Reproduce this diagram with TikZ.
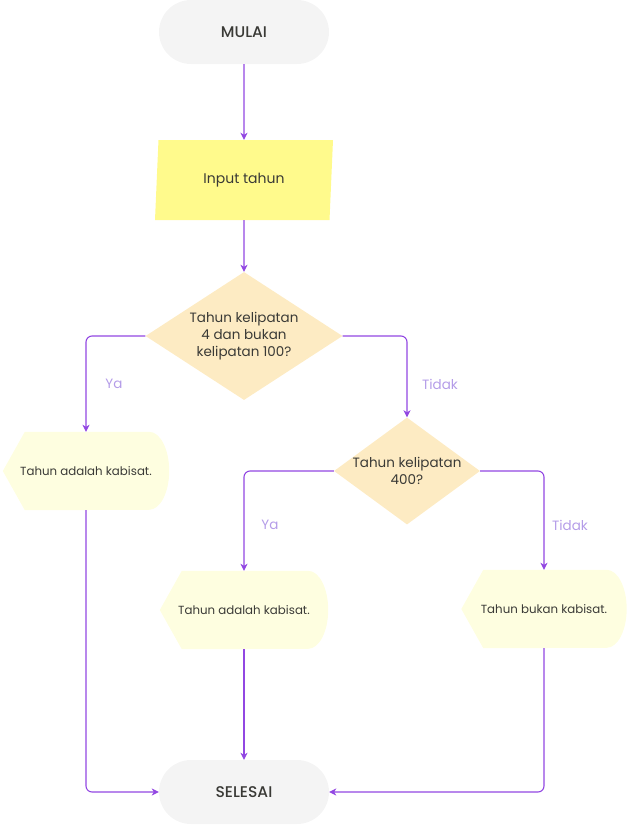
\documentclass[tikz,border=0pt]{standalone}
\usepackage{fontspec}
\setmainfont{Poppins}
\newfontfamily\medfont{Poppins Medium}
\usetikzlibrary{shapes.geometric,arrows.meta,calc,backgrounds}
\definecolor{arrowc}{HTML}{9247E2}
\definecolor{lblc}{HTML}{B49CE8}
\definecolor{textc}{HTML}{3A3A36}
\definecolor{termc}{HTML}{F4F4F4}
\definecolor{ioc}{HTML}{FFFA8C}
\definecolor{decc}{HTML}{FDEBC3}
\definecolor{dispc}{HTML}{FEFEE0}
\begin{document}
\begin{tikzpicture}[x=1pt,y=-1pt,
  txt/.style={text=textc, font=\fontsize{13.5}{17}\selectfont},
  term/.style={rounded corners=32pt, fill=termc, minimum width=170pt, minimum height=64pt, inner sep=0pt, text=textc, font=\medfont\fontsize{15.5}{18}\selectfont},
  io/.style={trapezium, trapezium left angle=76, trapezium right angle=104, trapezium stretches body, fill=ioc, minimum width=178pt, minimum height=80pt, inner sep=0pt, text=textc, font=\fontsize{14}{17}\selectfont},
  dec/.style={diamond, fill=decc, inner sep=0pt},
  dectext/.style={align=center, txt},
  disp/.style={minimum height=78pt, inner sep=0pt, text=textc, font=\fontsize{11.8}{14}\selectfont},
  dispshape/.style={fill=dispc},
  flow/.style={draw=arrowc, line width=1.1pt, rounded corners=6pt, -{Stealth[length=7pt,width=7pt,inset=2pt]}},
  lbl/.style={text=lblc, font=\fontsize{13.5}{16}\selectfont}]
\useasboundingbox (0,0) rectangle (627,825);

\node[term] (start) at (244,32) {MULAI};
\node[io] (input) at (244,180) {Input tahun};
\node[dec, minimum width=197pt, minimum height=128pt] (d1) at (244,336) {};
\node[dectext] (t1) at (d1) {Tahun kelipatan\\4 dan bukan\\kelipatan 100?};
\node[disp, minimum width=166pt] (y1) at (86,471) {Tahun adalah kabisat.};
\node[dec, minimum width=146pt, minimum height=107pt] (d2) at (407,471) {};
\node[dectext] (t2) at (d2) {Tahun kelipatan\\400?};
\node[disp, minimum width=168pt] (y2) at (244,610) {Tahun adalah kabisat.};
\node[disp, minimum width=165pt] (n2) at (544,609) {Tahun bukan kabisat.};
\node[term] (end) at (244,792) {SELESAI};

\begin{scope}[on background layer]
\foreach \n in {y1,y2,n2}{
  \fill[dispshape] (\n.west) -- ($(\n.north west)+(22,0)$) -- ($(\n.north east)+(-20,0)$)
    arc[start angle=90,end angle=-90,x radius=20pt,y radius=39pt]
    -- ($(\n.south west)+(22,0)$) -- cycle;
}
\end{scope}

\draw[flow] (start.south) -- (input.north);
\draw[flow] (input.south) -- (d1.north);
\draw[flow] (d1.west) -| (y1.north);
\draw[flow] (d1.east) -| (d2.north);
\draw[flow] (d2.west) -| (y2.north);
\draw[flow] (d2.east) -| (n2.north);
\draw[flow] (y1.south) |- (end.west);
\draw[flow] (y2.south) -- (end.north);
\draw[flow] (n2.south) |- (end.east);

\node[lbl] (l1) at (114,384) {Ya};
\node[lbl] (l2) at (440,384) {Tidak};
\node[lbl] (l3) at (270,525) {Ya};
\node[lbl] (l4) at (570,525) {Tidak};
\end{tikzpicture}
\end{document}
